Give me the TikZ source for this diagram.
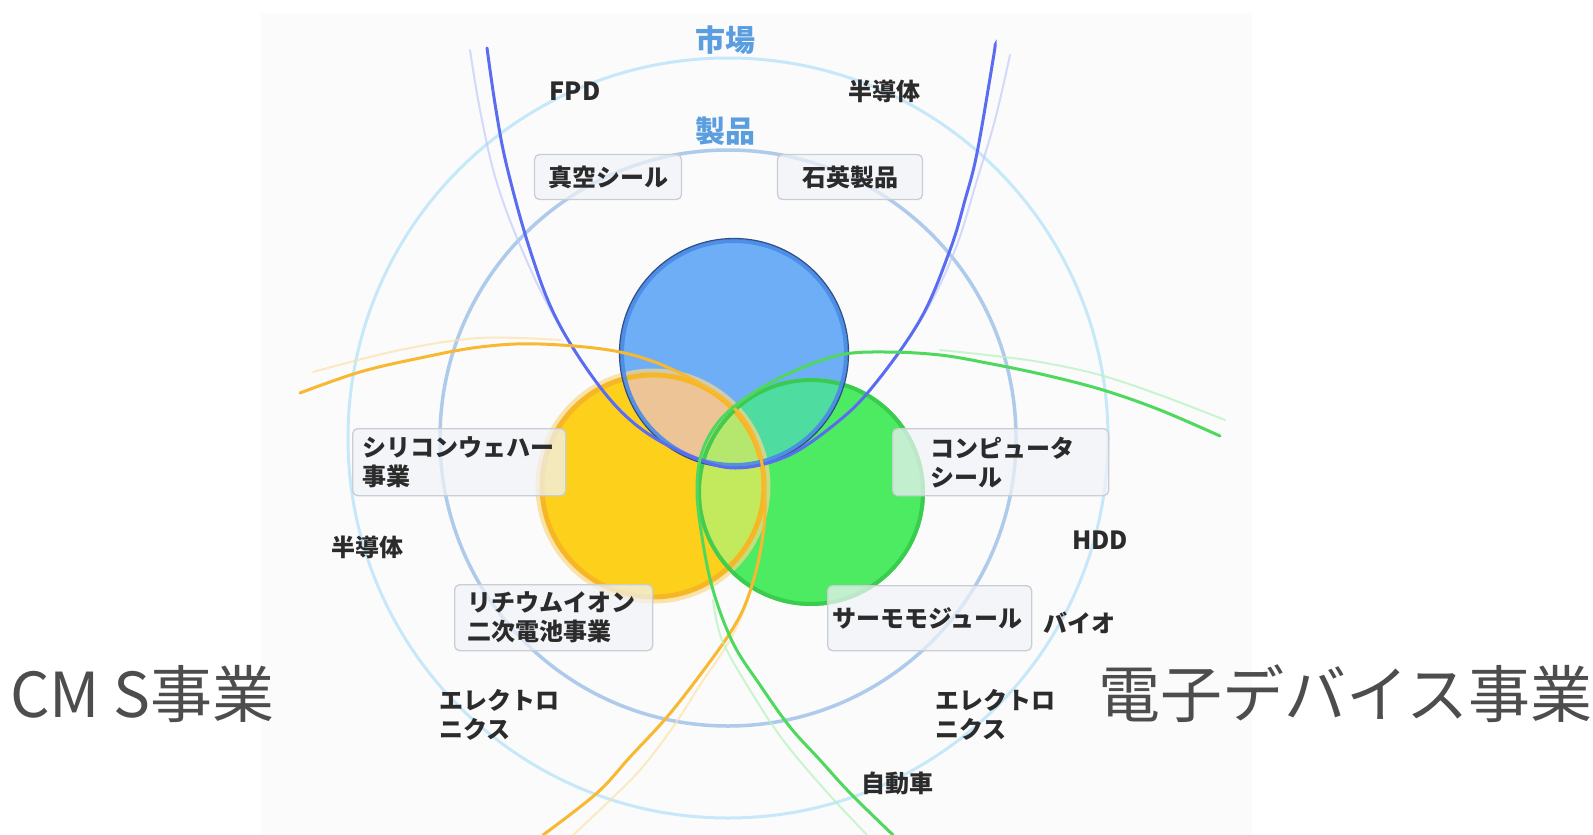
\documentclass[tikz,border=0pt]{standalone}
\usepackage{fontspec}
\newfontfamily\jp{Noto Sans CJK JP}
\definecolor{bgc}{HTML}{FBFBFC}
\definecolor{outerc}{HTML}{C6E8F9}
\definecolor{innerc}{HTML}{AFCBEC}
\definecolor{cblue}{HTML}{6EAEF7}
\definecolor{cbluerim}{HTML}{4A8BE6}
\definecolor{cbluedark}{HTML}{30508C}
\definecolor{cyel}{HTML}{FDD01C}
\definecolor{cyelrim}{HTML}{F6B41C}
\definecolor{cyelhalo}{HTML}{FAD88A}
\definecolor{cgreen}{HTML}{4CEB62}
\definecolor{cgreenrim}{HTML}{38C94C}
\definecolor{iBY}{HTML}{ECC496}
\definecolor{iBG}{HTML}{4FDCA0}
\definecolor{iYG}{HTML}{C3EA5C}
\definecolor{iBYG}{HTML}{B5E66E}
\definecolor{ublue}{HTML}{5A6CF0}
\definecolor{ubluef}{HTML}{C2CBFA}
\definecolor{uorange}{HTML}{F8B830}
\definecolor{uorangef}{HTML}{FCE2A6}
\definecolor{ugreen}{HTML}{4ED85E}
\definecolor{ugreenf}{HTML}{B6F2BE}
\definecolor{txt}{HTML}{2B2B2B}
\definecolor{bigtxt}{HTML}{4D4D4D}
\definecolor{headblue}{HTML}{5B9EE0}
\definecolor{boxfill}{HTML}{F0F3F8}
\definecolor{boxline}{HTML}{C9CED5}
\tikzset{
  lbl/.style={font=\jp\bfseries\fontsize{24}{29}\selectfont, text=txt, inner sep=0pt},
  head/.style={font=\jp\bfseries\fontsize{30}{34}\selectfont, text=headblue, inner sep=0pt},
  big/.style={font=\jp\fontsize{62}{68}\selectfont, text=bigtxt, inner sep=0pt, anchor=west},
  boxshape/.style={draw=boxline, line width=1.3pt, fill=boxfill, fill opacity=0.72, rounded corners=5pt, inner sep=0pt},
  boxtext/.style={lbl, align=left, anchor=west},
  ring/.style={line width=3pt},
  mainc/.style={line width=3pt, line cap=round},
  faintc/.style={line width=2pt, line cap=round, opacity=0.7},
}
\begin{document}
\begin{tikzpicture}[x=1pt,y=-1pt]
\useasboundingbox (0,0) rectangle (1593,835);
\fill[white] (0,0) rectangle (1593,835);
\fill[bgc] (261,13) rectangle (1252,835);

% concentric rings
\coordinate (ctr) at (728,438);
\draw[ring, outerc] (ctr) circle[radius=380pt];
\draw[ring, innerc, line width=3.5pt] (ctr) circle[radius=288pt];

% three circles
\coordinate (cb) at (734,353);
\coordinate (cy) at (653,486);
\coordinate (cg) at (811,492);
\fill[cblue] (cb) circle[radius=114pt];
\fill[cyel] (cy) circle[radius=113pt];
\fill[cgreen] (cg) circle[radius=114pt];
\begin{scope}
  \clip (cb) circle[radius=114pt];
  \fill[iBY] (cy) circle[radius=113pt];
  \fill[iBG] (cg) circle[radius=114pt];
\end{scope}
\begin{scope}
  \clip (cy) circle[radius=113pt];
  \fill[iYG] (cg) circle[radius=114pt];
  \clip (cg) circle[radius=114pt];
  \fill[iBYG] (cb) circle[radius=114pt];
\end{scope}
% rims
\draw[cyelhalo, line width=9pt, opacity=0.7] (cy) circle[radius=113pt];
\draw[cyelrim, line width=5pt, opacity=0.9] (cy) circle[radius=111pt];
\draw[cgreenrim, line width=4pt, opacity=0.9] (cg) circle[radius=112pt];
\draw[cbluerim, line width=4pt, opacity=0.9] (cb) circle[radius=112pt];
\draw[cbluedark, line width=1.3pt] (cb) circle[radius=114.5pt];

% blue U curve
\draw[faintc, ubluef] plot[smooth, tension=0.6] coordinates {
  (470,50) (480,110) (496,180) (522,250) (555,318) (600,387) (640,428)};
\draw[faintc, ubluef] plot[smooth, tension=0.6] coordinates {
  (830,428) (870,390) (922,318) (955,250) (977,180) (995,120) (1010,55)};
\draw[mainc, ublue] plot[smooth, tension=0.6] coordinates {
  (487,48) (496,110) (507,167) (530,250) (557,320) (600,387) (640,428)
  (690,456) (735,468) (785,457) (830,428) (870,390) (920,320) (950,250)
  (965,200) (977,153) (993,60) (995,45)};

% orange curve
\draw[faintc, uorangef] plot[smooth, tension=0.6] coordinates {
  (313,372) (400,350) (480,338) (560,340)};
\draw[faintc, uorangef] plot[smooth, tension=0.6] coordinates {
  (748,600) (730,640) (700,685) (673,727) (640,770) (605,805) (573,835)};
\draw[mainc, uorange] plot[smooth, tension=0.6] coordinates {
  (300,393) (360,372) (420,358) (480,347) (540,344) (620,352) (680,373)
  (733,407) (758,447) (765,503) (760,553) (747,600) (730,633) (700,675)
  (667,717) (630,757) (597,793) (543,835)};

% green curve
\draw[faintc, ugreenf] plot[smooth, tension=0.6] coordinates {
  (1225,420) (1160,395) (1100,375) (1040,362) (987,355) (940,350)};
\draw[faintc, ugreenf] plot[smooth, tension=0.6] coordinates {
  (713,600) (722,640) (750,690) (783,740) (825,790) (867,835)};
\draw[mainc, ugreen] plot[smooth, tension=0.6] coordinates {
  (1220,436) (1160,410) (1103,390) (1045,375) (987,363) (940,355) (887,352)
  (840,355) (790,373) (750,395) (720,420) (702,452) (697,490) (702,537)
  (713,590) (733,643) (760,685) (790,727) (820,760) (850,793) (893,835)};

% headings
\node[head] (market) at (725,40) {市場};
\node[head] (product) at (725,131) {製品};

% plain labels
\node[lbl, font=\jp\bfseries\fontsize{25}{29}\selectfont] (fpd) at (575,91) {FPD};
\node[lbl] (semi1) at (884,91) {半導体};
\node[lbl] (semi2) at (367,547) {半導体};
\node[lbl, font=\jp\bfseries\fontsize{25}{29}\selectfont] (hdd) at (1100,540) {HDD};
\node[lbl] (bio) at (1079,623) {バイオ};
\node[lbl, align=left, anchor=west] (elec1) at (439,715) {エレクトロ\\ニクス};
\node[lbl, align=left, anchor=west] (elec2) at (935,715) {エレクトロ\\ニクス};
\node[lbl] (car) at (897,783) {自動車};

% boxes
\node[boxshape, minimum width=147pt, minimum height=45pt] (vacbox) at (608,177) {};
\node[lbl] (vac) at (vacbox) {真空シール};
\node[boxshape, minimum width=145pt, minimum height=45pt] (qbox) at (850,177) {};
\node[lbl] (quartz) at (qbox) {石英製品};
\node[boxshape, minimum width=213pt, minimum height=67pt, anchor=north west] (sibox) at (352,428) {};
\node[boxtext] (si) at ([xshift=10pt]sibox.west) {シリコンウェハー\\事業};
\node[boxshape, minimum width=198pt, minimum height=66pt, anchor=north west] (libox) at (454,584) {};
\node[boxtext] (li) at ([xshift=13pt]libox.west) {リチウムイオン\\二次電池事業};
\node[boxshape, minimum width=216pt, minimum height=67pt, anchor=north west] (cobox) at (892,428) {};
\node[boxtext] (co) at ([xshift=38pt]cobox.west) {コンピュータ\\シール};
\node[boxshape, minimum width=204pt, minimum height=65pt, anchor=north west] (thbox) at (827,585) {};
\node[lbl] (thermo) at ([xshift=-2pt]thbox.center) {サーモモジュール};

% big side labels
\node[big] (cms) at (10,694) {CM S事業};
\node[big] (edev) at (1098,694) {電子デバイス事業};
\end{tikzpicture}
\end{document}
